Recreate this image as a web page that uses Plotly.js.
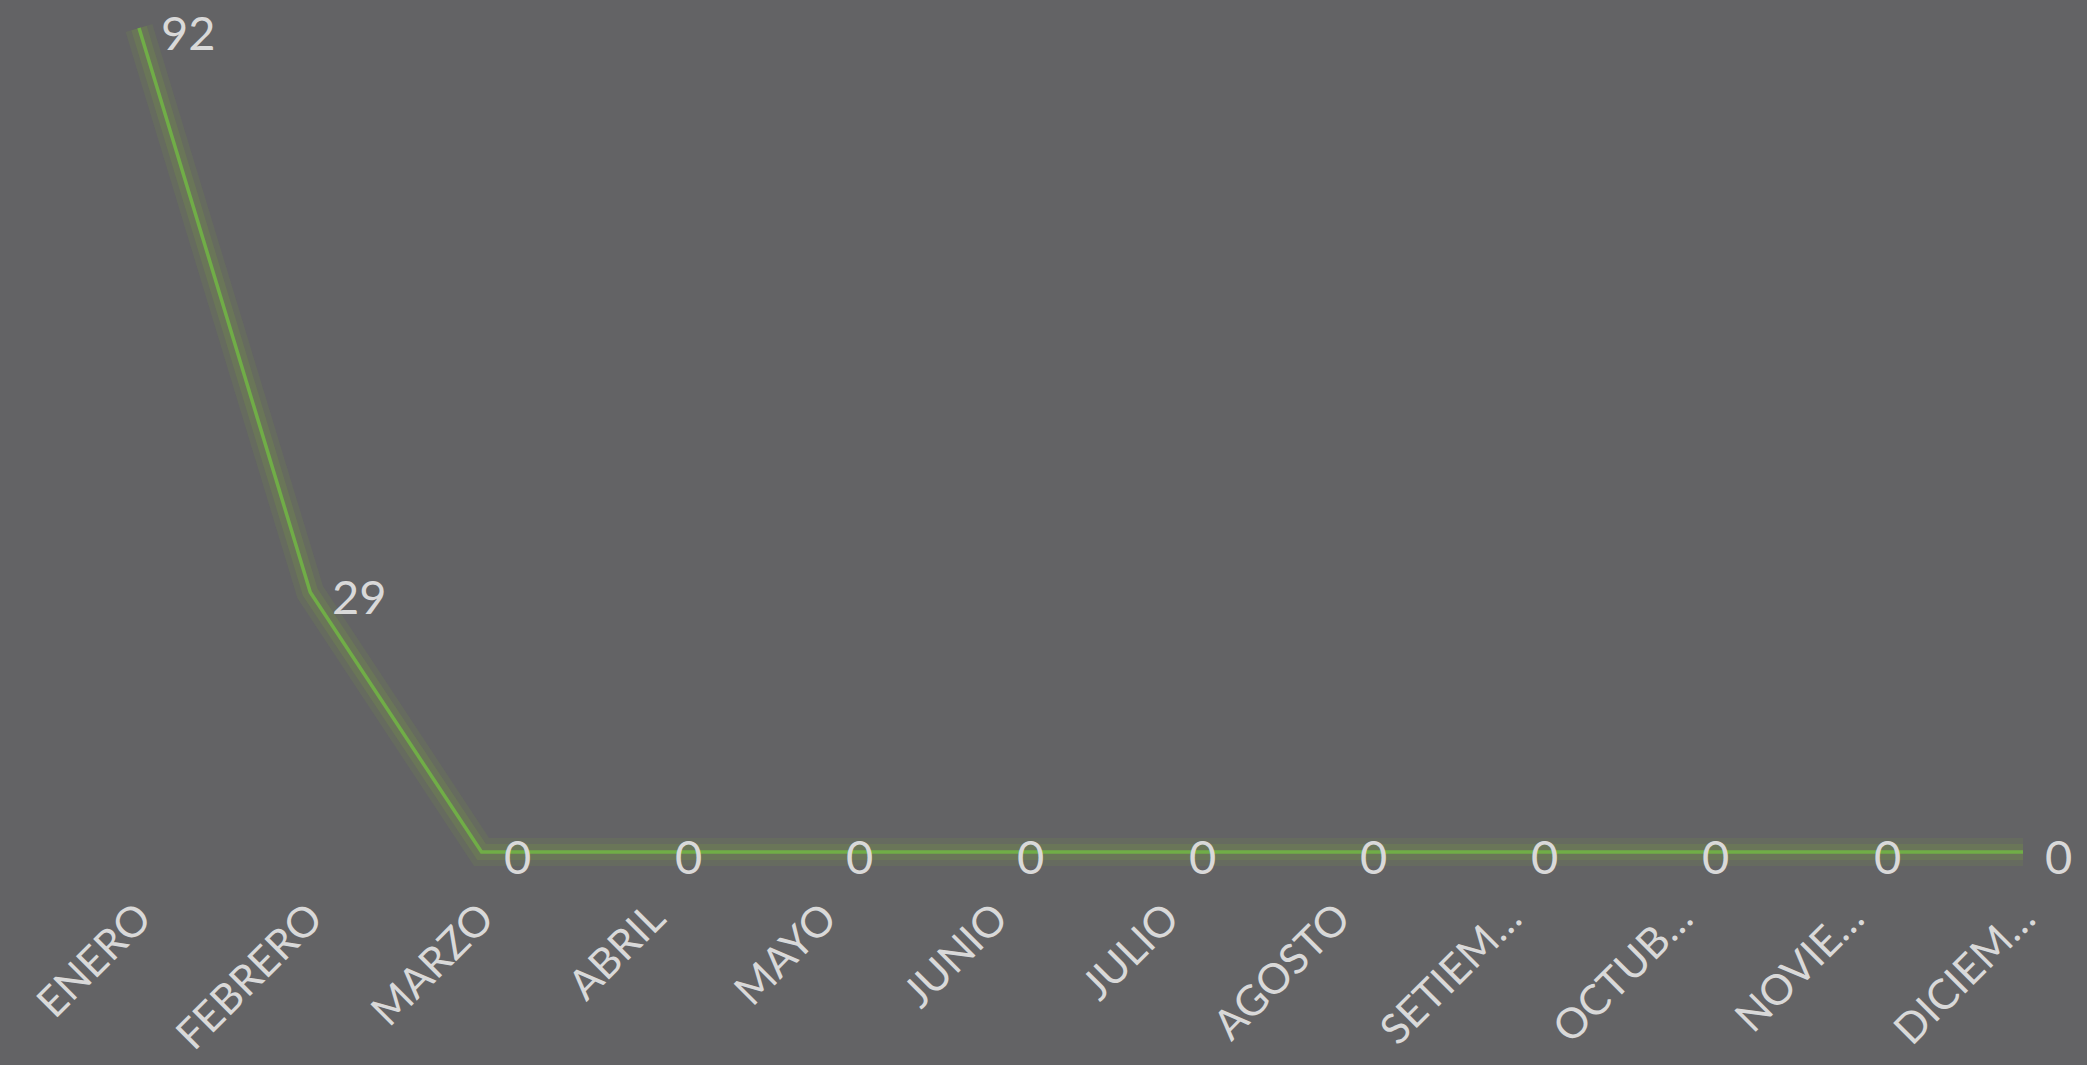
<!DOCTYPE html>
<html>
<head>
<meta charset="utf-8">
<script src="https://cdn.plot.ly/plotly-3.0.1.min.js"></script>
<style>
html,body{margin:0;padding:0;background:#636365;}
#chart{width:2087px;height:1065px;}
</style>
</head>
<body>
<div id="chart"></div>
<script>
const months = ["ENERO","FEBRERO","MARZO","ABRIL","MAYO","JUNIO","JULIO","AGOSTO","SETIEMBRE","OCTUBRE","NOVIEMBRE","DICIEMBRE"];
const tickLabels = ["ENERO","FEBRERO","MARZO","ABRIL","MAYO","JUNIO","JULIO","AGOSTO","SETIEM…","OCTUB…","NOVIE…","DICIEM…"];
const values = [92,29,0,0,0,0,0,0,0,0,0,0];

const green = "#70ad47";
const fontFam = "Lato, 'Open Sans', sans-serif";
const glow1 = {x: months, y: values, type: "scatter", mode: "lines", hoverinfo: "skip", showlegend: false,
  line: {color: "rgba(125,160,60,0.13)", width: 28}};
const glow2 = {x: months, y: values, type: "scatter", mode: "lines", hoverinfo: "skip", showlegend: false,
  line: {color: "rgba(125,165,60,0.20)", width: 16}};
const main = {x: months, y: values, type: "scatter", mode: "lines", showlegend: false,
  line: {color: green, width: 3.5}, cliponaxis: false};

const labels = months.map((m, i) => ({
  x: m, y: values[i], text: String(values[i]), showarrow: false,
  xanchor: "left", yanchor: "middle", xshift: 20, yshift: -4,
  font: {family: fontFam, size: 47, color: "#d9d9d9"}
}));

const pxPerCat = (2023 - 139) / 11;
const layout = {
  width: 2087, height: 1065,
  paper_bgcolor: "#636365", plot_bgcolor: "#636365",
  margin: {l: 0, r: 0, t: 0, b: 185},
  showlegend: false,
  annotations: labels,
  xaxis: {
    type: "category",
    range: [-139 / pxPerCat, 11 + (2087 - 2023) / pxPerCat],
    tickmode: "array", tickvals: months, ticktext: tickLabels,
    tickangle: -45, showgrid: false, zeroline: false, showline: false, ticks: "",
    tickfont: {family: fontFam, size: 42, color: "#d9d9d9"},
    ticklabelstandoff: 4
  },
  yaxis: {
    range: [-(880 - 852) / (824 / 92), 92 + 28 / (824 / 92)],
    showgrid: false, zeroline: false, showline: false, showticklabels: false, ticks: ""
  }
};
Plotly.newPlot("chart", [glow1, glow2, main], layout, {displayModeBar: false, staticPlot: true});
</script>
</body>
</html>
